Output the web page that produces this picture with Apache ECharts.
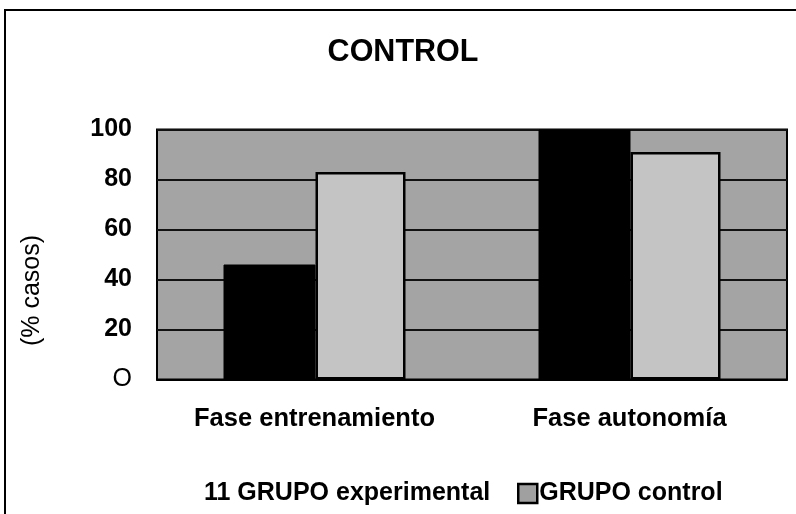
<!DOCTYPE html>
<html>
<head>
<meta charset="utf-8">
<title>CONTROL</title>
<script src="https://cdn.jsdelivr.net/npm/echarts@6/dist/echarts.min.js"></script>
<style>
  html, body { margin: 0; padding: 0; background: #fff; }
  #chart { width: 796px; height: 514px; }
</style>
</head>
<body>
<div id="chart"></div>
<script>
// Phases on the category axis
var categories = ['Fase entrenamiento', 'Fase autonomía'];
// Percentage of cases per group
var experimental = [46, 100];
var control = [83, 91];
// Y tick labels, bottom to top (the zero tick is printed as the letter O)
var yTickLabels = ['O', '20', '40', '60', '80', '100'];

var FONT = '"Liberation Sans", Arial, sans-serif';
var chart = echarts.init(document.getElementById('chart'));

chart.setOption({
  backgroundColor: '#ffffff',
  animation: false,
  title: {
    text: 'CONTROL',
    left: 398,
    top: 32,
    textAlign: 'center',
    textStyle: { fontFamily: FONT, fontSize: 30.5, fontWeight: 'bold', color: '#000' }
  },
  graphic: [{
    type: 'rect',
    shape: { x: 5, y: 10, width: 800, height: 520 },
    style: { fill: 'none', stroke: '#000', lineWidth: 2 },
    silent: true
  }],
  grid: {
    left: 157, right: 9, top: 129.5, bottom: 134.5,
    show: true,
    backgroundColor: '#a4a4a4',
    borderColor: '#000',
    borderWidth: 2
  },
  legend: [{
    data: ['GRUPO experimental'],
    left: 193,
    top: 476,
    itemWidth: 0,
    itemHeight: 0,
    formatter: function (name) { return '11 ' + name; },
    textStyle: { fontFamily: FONT, fontSize: 25, fontWeight: 'bold', color: '#000' }
  }, {
    data: ['GRUPO control'],
    left: 512,
    top: 476,
    itemWidth: 19,
    itemHeight: 19,
    itemGap: 3,
    icon: 'rect',
    itemStyle: { color: '#a0a0a0', borderColor: '#000', borderWidth: 2.5 },
    textStyle: { fontFamily: FONT, fontSize: 25, fontWeight: 'bold', color: '#000', padding: [0, 0, 0, -3] }
  }],
  xAxis: {
    type: 'category',
    data: categories,
    axisLine: { show: true, lineStyle: { color: '#000', width: 2 } },
    axisTick: { show: false },
    axisLabel: {
      margin: 26,
      fontFamily: FONT, fontSize: 25.5, fontWeight: 'bold', color: '#000'
    }
  },
  yAxis: {
    type: 'value',
    min: 0, max: 100, interval: 20,
    name: '(% casos)',
    nameLocation: 'middle',
    nameGap: 112,
    nameRotate: 90,
    nameTextStyle: { fontFamily: FONT, fontSize: 25, color: '#000', padding: [0, 72, 0, 0] },
    axisLine: { show: false },
    axisTick: { show: false },
    splitLine: { show: true, lineStyle: { color: '#111', width: 2 } },
    axisLabel: {
      margin: 25,
      fontFamily: FONT, fontSize: 25, fontWeight: 'bold', color: '#000',
      formatter: function (v) {
        var t = yTickLabels[Math.round(v / 20)];
        return v === 0 ? '{o|' + t + '}' : t;
      },
      rich: {
        o: { fontFamily: FONT, fontSize: 25, fontWeight: 'normal', color: '#000' }
      }
    }
  },
  series: [{
    name: 'GRUPO experimental',
    type: 'bar',
    data: experimental,
    barWidth: 92,
    barGap: '0%',
    itemStyle: { color: '#000', borderColor: '#000', borderWidth: 1 }
  }, {
    name: 'GRUPO control',
    type: 'bar',
    data: control,
    barWidth: 90,
    itemStyle: { color: '#c4c4c4', borderColor: '#000', borderWidth: 2.5 }
  }]
});
</script>
</body>
</html>
